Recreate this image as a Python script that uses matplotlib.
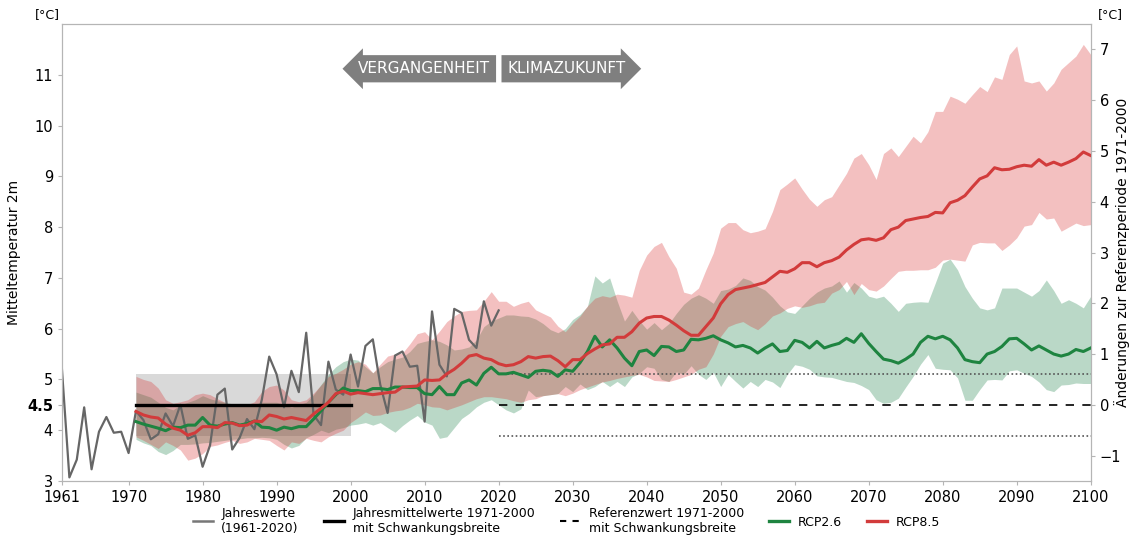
import numpy as np
import matplotlib
matplotlib.use("Agg")
import matplotlib.pyplot as plt
from matplotlib.lines import Line2D

# ---- observed annual means 1961-2020 ----
obs_years = list(range(1961, 2021))
obs_temp = [5.19, 3.07, 3.42, 4.45, 3.23, 3.97, 4.26, 3.95, 3.97, 3.55,
            4.38, 4.20, 3.82, 3.92, 4.33, 4.08, 4.50, 3.83, 3.90, 3.28,
            3.70, 4.70, 4.82, 3.62, 3.85, 4.22, 4.02, 4.60, 5.45, 5.10,
            4.45, 5.17, 4.75, 5.92, 4.30, 4.10, 5.35, 4.80, 4.70, 5.49,
            4.86, 5.66, 5.79, 4.90, 4.34, 5.47, 5.55, 5.25, 5.27, 4.17,
            6.34, 5.29, 5.06, 6.39, 6.31, 5.78, 5.62, 6.54, 6.06, 6.36]

# ---- scenario ensembles 1971-2100 ----
scen_years = list(range(1971, 2101))
rcp26_mean = [4.17, 4.12, 4.08, 4.04, 3.99, 4.06, 4.05, 4.10, 4.10, 4.25,
              4.10, 4.08, 4.12, 4.15, 4.10, 4.13, 4.18, 4.06, 4.05, 4.00,
              4.06, 4.03, 4.07, 4.07, 4.22, 4.38, 4.55, 4.70, 4.83, 4.78,
              4.78, 4.76, 4.82, 4.82, 4.80, 4.85, 4.85, 4.84, 4.84, 4.72,
              4.70, 4.86, 4.70, 4.70, 4.93, 4.99, 4.89, 5.12, 5.24, 5.11,
              5.11, 5.14, 5.09, 5.04, 5.16, 5.18, 5.16, 5.06, 5.19, 5.16,
              5.33, 5.55, 5.85, 5.64, 5.78, 5.62, 5.42, 5.27, 5.55, 5.58,
              5.47, 5.65, 5.64, 5.55, 5.58, 5.79, 5.78, 5.81, 5.86, 5.78,
              5.72, 5.64, 5.67, 5.62, 5.52, 5.62, 5.70, 5.55, 5.57, 5.77,
              5.73, 5.62, 5.75, 5.62, 5.67, 5.71, 5.81, 5.73, 5.90, 5.71,
              5.55, 5.40, 5.37, 5.32, 5.40, 5.50, 5.73, 5.85, 5.80, 5.85,
              5.78, 5.62, 5.39, 5.35, 5.33, 5.50, 5.55, 5.65, 5.80, 5.81,
              5.70, 5.58, 5.66, 5.58, 5.50, 5.46, 5.50, 5.59, 5.55, 5.62]
rcp26_lo = [3.82, 3.75, 3.70, 3.58, 3.52, 3.60, 3.72, 3.72, 3.73, 3.75,
            3.76, 3.78, 3.80, 3.82, 3.83, 3.85, 3.85, 3.86, 3.85, 3.82,
            3.72, 3.65, 3.70, 3.85, 3.92, 4.00, 3.95, 4.02, 4.05, 4.10,
            4.12, 4.15, 4.10, 4.15, 4.05, 3.96, 4.09, 4.20, 4.29, 4.16,
            4.10, 3.84, 3.87, 4.05, 4.23, 4.33, 4.46, 4.55, 4.60, 4.50,
            4.40, 4.34, 4.42, 4.79, 4.66, 4.68, 4.70, 4.72, 4.86, 4.76,
            4.91, 4.80, 4.86, 4.96, 4.86, 4.96, 4.86, 5.05, 5.12, 5.25,
            5.22, 5.00, 4.96, 5.15, 5.10, 5.27, 5.10, 5.00, 5.14, 4.86,
            5.10, 4.96, 4.83, 4.96, 4.86, 5.00, 4.95, 4.84, 5.10, 5.29,
            5.26, 5.20, 5.07, 5.05, 5.04, 5.00, 4.96, 4.94, 4.88, 4.80,
            4.60, 4.53, 4.55, 4.63, 4.85, 5.06, 5.30, 5.49, 5.22, 5.20,
            5.19, 5.03, 4.59, 4.59, 4.80, 4.99, 5.00, 4.99, 5.17, 5.19,
            5.12, 5.06, 4.95, 4.80, 4.76, 4.89, 4.90, 4.93, 4.92, 4.92]
rcp26_hi = [4.75, 4.70, 4.65, 4.55, 4.45, 4.40, 4.50, 4.55, 4.60, 4.68,
            4.62, 4.58, 4.55, 4.52, 4.50, 4.50, 4.52, 4.55, 4.55, 4.55,
            4.50, 4.45, 4.50, 4.55, 4.70, 4.90, 5.10, 5.25, 5.35, 5.40,
            5.38, 5.25, 5.13, 5.25, 5.35, 5.40, 5.44, 5.55, 5.71, 5.75,
            5.78, 5.75, 5.68, 5.58, 5.60, 5.64, 5.78, 6.04, 6.15, 6.21,
            6.27, 6.27, 6.25, 6.24, 6.19, 6.10, 5.98, 5.92, 6.00, 6.18,
            6.28, 6.44, 7.04, 6.90, 7.00, 6.55, 6.15, 6.36, 6.16, 5.99,
            6.12, 5.98, 6.10, 6.30, 6.48, 6.60, 6.67, 6.60, 6.50, 6.75,
            6.78, 6.85, 7.00, 6.95, 6.83, 6.76, 6.62, 6.45, 6.33, 6.30,
            6.45, 6.60, 6.72, 6.80, 6.84, 6.94, 6.72, 6.91, 6.80, 6.64,
            6.60, 6.64, 6.50, 6.34, 6.50, 6.52, 6.53, 6.52, 6.90, 7.29,
            7.37, 7.16, 6.83, 6.60, 6.41, 6.37, 6.41, 6.80, 6.80, 6.80,
            6.72, 6.64, 6.75, 6.96, 6.75, 6.50, 6.57, 6.50, 6.41, 6.64]
rcp85_mean = [4.37, 4.30, 4.26, 4.24, 4.12, 4.04, 4.00, 3.90, 3.95, 4.07,
              4.07, 4.05, 4.15, 4.14, 4.09, 4.10, 4.18, 4.17, 4.30, 4.27,
              4.22, 4.25, 4.22, 4.19, 4.32, 4.43, 4.55, 4.72, 4.77, 4.71,
              4.74, 4.72, 4.70, 4.72, 4.74, 4.75, 4.85, 4.86, 4.87, 4.99,
              4.98, 4.99, 5.11, 5.20, 5.32, 5.46, 5.49, 5.42, 5.39, 5.31,
              5.27, 5.29, 5.35, 5.45, 5.42, 5.45, 5.46, 5.37, 5.25, 5.39,
              5.39, 5.51, 5.60, 5.68, 5.70, 5.83, 5.83, 5.94, 6.11, 6.21,
              6.24, 6.24, 6.17, 6.07, 5.96, 5.87, 5.87, 6.04, 6.21, 6.49,
              6.67, 6.77, 6.80, 6.83, 6.87, 6.91, 7.02, 7.13, 7.11, 7.18,
              7.30, 7.30, 7.22, 7.30, 7.34, 7.41, 7.55, 7.66, 7.75, 7.77,
              7.74, 7.79, 7.95, 8.00, 8.13, 8.16, 8.19, 8.21, 8.29, 8.28,
              8.48, 8.53, 8.62, 8.79, 8.95, 9.01, 9.17, 9.13, 9.14, 9.19,
              9.22, 9.20, 9.33, 9.22, 9.28, 9.22, 9.28, 9.35, 9.48, 9.41]
rcp85_lo = [3.87, 3.80, 3.72, 3.64, 3.77, 3.70, 3.61, 3.41, 3.45, 3.54,
            3.68, 3.71, 3.76, 3.80, 3.74, 3.77, 3.84, 3.82, 3.80, 3.70,
            3.61, 3.77, 3.74, 3.84, 3.80, 3.77, 3.87, 3.94, 4.00, 4.15,
            4.25, 4.36, 4.29, 4.30, 4.35, 4.38, 4.40, 4.45, 4.53, 4.50,
            4.46, 4.45, 4.40, 4.45, 4.50, 4.56, 4.62, 4.66, 4.66, 4.64,
            4.62, 4.58, 4.55, 4.60, 4.62, 4.68, 4.70, 4.72, 4.68, 4.73,
            4.80, 4.85, 4.90, 4.95, 4.98, 5.02, 5.05, 5.08, 5.10, 5.05,
            4.98, 4.97, 4.96, 5.00, 5.05, 5.10, 5.20, 5.25, 5.50, 5.85,
            6.04, 6.10, 6.14, 6.05, 5.98, 6.10, 6.25, 6.31, 6.40, 6.45,
            6.42, 6.45, 6.50, 6.52, 6.70, 6.77, 6.93, 6.67, 6.89, 6.77,
            6.74, 6.84, 6.99, 7.13, 7.15, 7.15, 7.16, 7.16, 7.21, 7.35,
            7.37, 7.35, 7.33, 7.65, 7.70, 7.69, 7.69, 7.54, 7.65, 7.79,
            8.02, 8.05, 8.29, 8.16, 8.18, 7.92, 8.00, 8.08, 8.03, 8.05]
rcp85_hi = [5.06, 5.00, 4.96, 4.83, 4.60, 4.53, 4.56, 4.60, 4.70, 4.73,
            4.70, 4.62, 4.55, 4.47, 4.48, 4.50, 4.56, 4.76, 4.86, 4.89,
            4.79, 4.60, 4.56, 4.60, 4.73, 4.89, 5.06, 5.12, 5.20, 5.30,
            5.35, 5.30, 5.13, 5.30, 5.46, 5.50, 5.52, 5.70, 5.90, 5.94,
            5.78, 5.95, 6.14, 6.25, 6.34, 6.36, 6.37, 6.54, 6.73, 6.54,
            6.54, 6.44, 6.50, 6.54, 6.37, 6.30, 6.23, 6.05, 5.94, 6.11,
            6.25, 6.45, 6.60, 6.65, 6.62, 6.68, 6.66, 6.62, 7.15, 7.45,
            7.62, 7.70, 7.42, 7.19, 6.72, 6.68, 6.80, 7.16, 7.49, 7.98,
            8.09, 8.09, 7.95, 7.89, 7.92, 7.97, 8.31, 8.74, 8.85, 8.97,
            8.75, 8.55, 8.41, 8.54, 8.60, 8.83, 9.06, 9.36, 9.45, 9.23,
            8.94, 9.45, 9.56, 9.39, 9.59, 9.79, 9.66, 9.88, 10.28, 10.28,
            10.58, 10.52, 10.44, 10.61, 10.77, 10.67, 10.96, 10.91, 11.40, 11.57,
            10.88, 10.84, 10.88, 10.68, 10.84, 11.11, 11.24, 11.37, 11.60, 11.40]

# reference period 1971-2000
REF_MEAN, REF_LO, REF_HI = 4.5, 3.89, 5.11
REF_START, REF_END = 1971, 2000
FUT_START = 2020

GREEN = "#1e8440"
RED = "#d23b3b"
SPINE = "#b5b5b5"

fig = plt.figure(figsize=(11.33, 5.35), dpi=100)
ax = fig.add_axes([0.0547, 0.101, 0.908, 0.854])

# gray box = variability of reference period
ax.fill_between([REF_START, REF_END], REF_LO, REF_HI, color="#d9d9d9", lw=0, zorder=1)
ax.fill_between(scen_years, rcp26_lo, rcp26_hi, color="#2e8b57", alpha=0.33, lw=0, zorder=2)
ax.fill_between(scen_years, rcp85_lo, rcp85_hi, color="#d62728", alpha=0.29, lw=0, zorder=3)

ax.plot(obs_years, obs_temp, color="#666666", lw=1.6, zorder=5)
ax.plot([REF_START, REF_END], [REF_MEAN, REF_MEAN], color="black", lw=2.4, zorder=6)
ax.plot([FUT_START, 2100], [REF_MEAN, REF_MEAN], color="black", lw=1.2, ls=(0, (5, 5)), zorder=4)
for v in (REF_LO, REF_HI):
    ax.plot([FUT_START, 2100], [v, v], color="#555555", lw=1.2, ls=(0, (1, 1.5)), zorder=4)

ax.plot(scen_years, rcp26_mean, color=GREEN, lw=2.2, zorder=7)
ax.plot(scen_years, rcp85_mean, color=RED, lw=2.2, zorder=8)

ax.set_xlim(1961, 2100)
ax.set_ylim(3, 12)
ax.set_xticks([1961] + list(range(1970, 2101, 10)))
yt = [3, 4, 4.5, 5, 6, 7, 8, 9, 10, 11]
ax.set_yticks(yt)
ax.set_yticklabels([("4.5" if v == 4.5 else str(int(v))) for v in yt])
for lab in ax.get_yticklabels():
    if lab.get_text() == "4.5":
        lab.set_fontweight("bold")
        lab.set_fontsize(12)
ax.tick_params(labelsize=10.5, color=SPINE, length=3)
for s in ax.spines.values():
    s.set_color(SPINE)
ax.set_ylabel("Mitteltemperatur 2m", fontsize=10)

ax2 = ax.twinx()
ax2.set_ylim(3 - REF_MEAN, 12 - REF_MEAN)
ax2.set_yticks(range(-1, 8))
ax2.tick_params(labelsize=10.5, color=SPINE, length=3)
for s in ax2.spines.values():
    s.set_color(SPINE)
ax2.set_ylabel("Änderungen zur Referenzperiode 1971-2000", fontsize=10)
ax2.yaxis.set_label_coords(1.023, 0.5)

fig.text(0.031, 0.967, "[°C]", fontsize=9)
fig.text(0.969, 0.967, "[°C]", fontsize=9)

# past / future arrows
ax.text(2009.9, 11.12, "VERGANGENHEIT", ha="center", va="center", color="white", fontsize=11,
        bbox=dict(boxstyle="larrow,pad=0.4", fc="#7f7f7f", ec="none"), zorder=10)
ax.text(2029.2, 11.12, "KLIMAZUKUNFT", ha="center", va="center", color="white", fontsize=11,
        bbox=dict(boxstyle="rarrow,pad=0.4", fc="#7f7f7f", ec="none"), zorder=10)

handles = [
    Line2D([], [], color="#777777", lw=1.8),
    Line2D([], [], color="black", lw=2.4),
    Line2D([], [], color="black", lw=1.5, ls=(0, (3, 3))),
    Line2D([], [], color=GREEN, lw=2.4),
    Line2D([], [], color=RED, lw=2.4),
]
labels = ["Jahreswerte\n(1961-2020)",
          "Jahresmittelwerte 1971-2000\nmit Schwankungsbreite",
          "Referenzwert 1971-2000\nmit Schwankungsbreite",
          "RCP2.6", "RCP8.5"]
fig.legend(handles, labels, loc="center", bbox_to_anchor=(0.50, 0.027), ncol=5, frameon=False,
           prop=dict(size=9), labelspacing=0.1,
           handlelength=1.6, columnspacing=2.0, handletextpad=0.7)

fig.savefig("out.png", dpi=100)
